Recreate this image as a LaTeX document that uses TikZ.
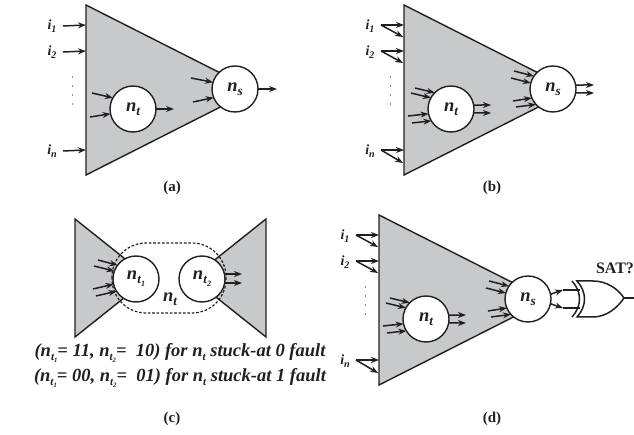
\documentclass[tikz,border=0pt]{standalone}
\usepackage{fontspec}
\setmainfont{Liberation Serif}
\usetikzlibrary{arrows.meta}
\definecolor{ink}{HTML}{231F20}
\definecolor{shade}{HTML}{C8C9CB}
\newcommand{\bi}{\bfseries\itshape}
\newcommand{\sbs}[2][0.72]{{\raisebox{-0.22em}{\scalebox{#1}{#2}}}}
\tikzset{
  x=1pt,y=-1pt,
  every node/.style={text=ink},
  wire/.style={draw=ink,line width=1.5pt},
  arr/.style={wire,-{Stealth[length=8pt,width=6pt]}},
  tri/.style={draw=ink,fill=shade,line width=1.4pt,line join=miter},
  gate/.style={circle,draw=ink,fill=white,line width=1.4pt,minimum size=46pt,inner sep=0pt,outer sep=0pt,font=\fontsize{18.5}{18.5}\bi},
  inlab/.style={font=\fontsize{14}{14}\bi,inner sep=0pt},
  captext/.style={font=\fontsize{15}{15}\bfseries,inner sep=0pt},
  faultline/.style={font=\fontsize{18.5}{18.5}\bi,inner sep=0pt}
}
\newcommand{\basepanel}{%
  \draw[tri] (86,5) -- (254,90) -- (86,175) -- cycle;
  \coordinate (e1) at (86,25); \coordinate (e1b) at (85,37);
  \coordinate (e2) at (86,51); \coordinate (e2b) at (85,63);
  \coordinate (en) at (86,150); \coordinate (enb) at (85,163);
  \node[gate] (nt) at (133,109) {n\sbs{t}};
  \node[gate] (ns) at (235,89) {n\sbs{s}};
  \node[inlab] (i1) at (52,26) {i\sbs{1}};
  \node[inlab] (i2) at (52,52) {i\sbs{2}};
  \node[inlab] (in) at (52,151) {i\sbs{n}};
  \foreach \yy in {77,86,95,104} \fill[ink] (72.5,\yy) circle (0.6pt);
}
\newcommand{\multiarrows}{%
  \draw[arr] ([shift={(11,-1)}]i1.center) -- (e1);
  \draw[arr] ([shift={(11,-1)}]i1.center) -- (e1b);
  \draw[arr] ([shift={(11,-1)}]i2.center) -- (e2);
  \draw[arr] ([shift={(11,-1)}]i2.center) -- (e2b);
  \draw[arr] ([shift={(11,-1)}]in.center) -- (en);
  \draw[arr] ([shift={(11,-1)}]in.center) -- (enb);
  \draw[arr] ([shift={(-36,-21)}]nt.center) -- (nt.135);
  \draw[arr] ([shift={(-40,-16)}]nt.center) -- (nt.151);
  \draw[arr] ([shift={(-43,7)}]nt.center) -- (nt.192);
  \draw[arr] ([shift={(-39,14)}]nt.center) -- (nt.211);
  \draw[arr] (nt.10) -- ([shift={(40,-4)}]nt.center);
  \draw[arr] (nt.-10) -- ([shift={(40,4)}]nt.center);
  \draw[arr] ([shift={(-39,-18)}]ns.center) -- (ns.146);
  \draw[arr] ([shift={(-42,-11)}]ns.center) -- (ns.165);
  \draw[arr] ([shift={(-40,12)}]ns.center) -- (ns.203);
  \draw[arr] ([shift={(-37,18)}]ns.center) -- (ns.222);
}
\begin{document}
\begin{tikzpicture}
\useasboundingbox (0,0) rectangle (634,435);
% panel a
\begin{scope}[name prefix=a-]
  \basepanel
  \draw[arr] ([xshift=11]i1.center) -- (e1);
  \draw[arr] ([xshift=11]i2.center) -- (e2);
  \draw[arr] ([xshift=11]in.center) -- (en);
  \draw[arr] ([shift={(-41,-16)}]nt.center) -- (nt.151);
  \draw[arr] ([shift={(-43,8)}]nt.center) -- (nt.192);
  \draw[arr] (nt.east) -- ([xshift=41]nt.center);
  \draw[arr] ([shift={(-44,-11)}]ns.center) -- (ns.163);
  \draw[arr] ([shift={(-42,13)}]ns.center) -- (ns.202);
  \draw[arr] (ns.east) -- ([xshift=42]ns.center);
\end{scope}
\node[captext] (capa) at (172,188) {(a)};
% panel b
\begin{scope}[name prefix=b-,shift={(318,0)}]
  \basepanel
  \multiarrows
  \draw[arr] (ns.10) -- ([shift={(41,-4)}]ns.center);
  \draw[arr] (ns.-10) -- ([shift={(41,4)}]ns.center);
\end{scope}
\node[captext] (capb) at (492,188) {(b)};
% panel c
\draw[tri] (75,219) -- (149,278) -- (75,337) -- cycle;
\draw[tri] (266,219) -- (192,278) -- (266,337) -- cycle;
\draw[draw=ink,line width=1.2pt,dash pattern=on 2.6pt off 1.8pt,rounded corners=34pt] (112,243) rectangle (226,313);
\node[gate] (t1) at (136,279) {n\sbs[0.7]{t\sbs[0.62]{\kern0.02em 1}}};
\node[gate] (t2) at (202,279) {n\sbs[0.7]{t\sbs[0.62]{\kern0.02em 2}}};
\node[font=\fontsize{18.5}{18.5}\bi,inner sep=0pt] (tn) at (170,299) {n\sbs{t}};
\draw[arr] ([shift={(-38,-19)}]t1.center) -- (t1.143);
\draw[arr] ([shift={(-42,-13)}]t1.center) -- (t1.160);
\draw[arr] ([shift={(-43,10)}]t1.center) -- (t1.193);
\draw[arr] ([shift={(-40,17)}]t1.center) -- (t1.212);
\draw[arr] (t2.east |- 0,274) -- ([shift={(40,-5)}]t2.center);
\draw[arr] (t2.east |- 0,283) -- ([shift={(40,4)}]t2.center);
\node[faultline] (l1) at (180,353) {(n\sbs[0.6]{t\sbs[0.6]{1}}= 11, n\sbs[0.6]{t\sbs[0.6]{2}}=\ \ 10) for n\sbs[0.6]{t} stuck-at 0 fault};
\node[faultline] (l2) at (180,378) {(n\sbs[0.6]{t\sbs[0.6]{1}}= 00, n\sbs[0.6]{t\sbs[0.6]{2}}=\ \ 01) for n\sbs[0.6]{t} stuck-at 1 fault};
\node[captext] (capc) at (172,419) {(c)};
% panel d
\begin{scope}[name prefix=d-,shift={(293,210)}]
  \basepanel
  \multiarrows
\end{scope}
\coordinate (xa) at (563,290);
\coordinate (xb) at (563,308);
\coordinate (xai) at (580,290);
\coordinate (xbi) at (580,308);
\draw[arr] (d-ns.12) -- (xa);
\draw[arr] (d-ns.-12) -- (xb);
\draw[wire] (xa) -- (xai);
\draw[wire] (xb) -- (xbi);
\draw[wire] (572,281) .. controls (582,292) and (582,306) .. (572,317);
\draw[wire,line join=miter] (577,281) -- (593,281) .. controls (607,281) and (618,289) .. (624,298)
   .. controls (618,307) and (607,317) .. (593,317) -- (577,317)
   .. controls (587,306) and (587,292) .. (577,281) -- cycle;
\coordinate (xo) at (634,298);
\draw[wire] (624,298) -- (xo);
\node[font=\fontsize{16}{16}\bfseries,inner sep=0pt] (sat) at (615,268) {SAT?};
\node[captext] (capd) at (492,419) {(d)};
\end{tikzpicture}
\end{document}
